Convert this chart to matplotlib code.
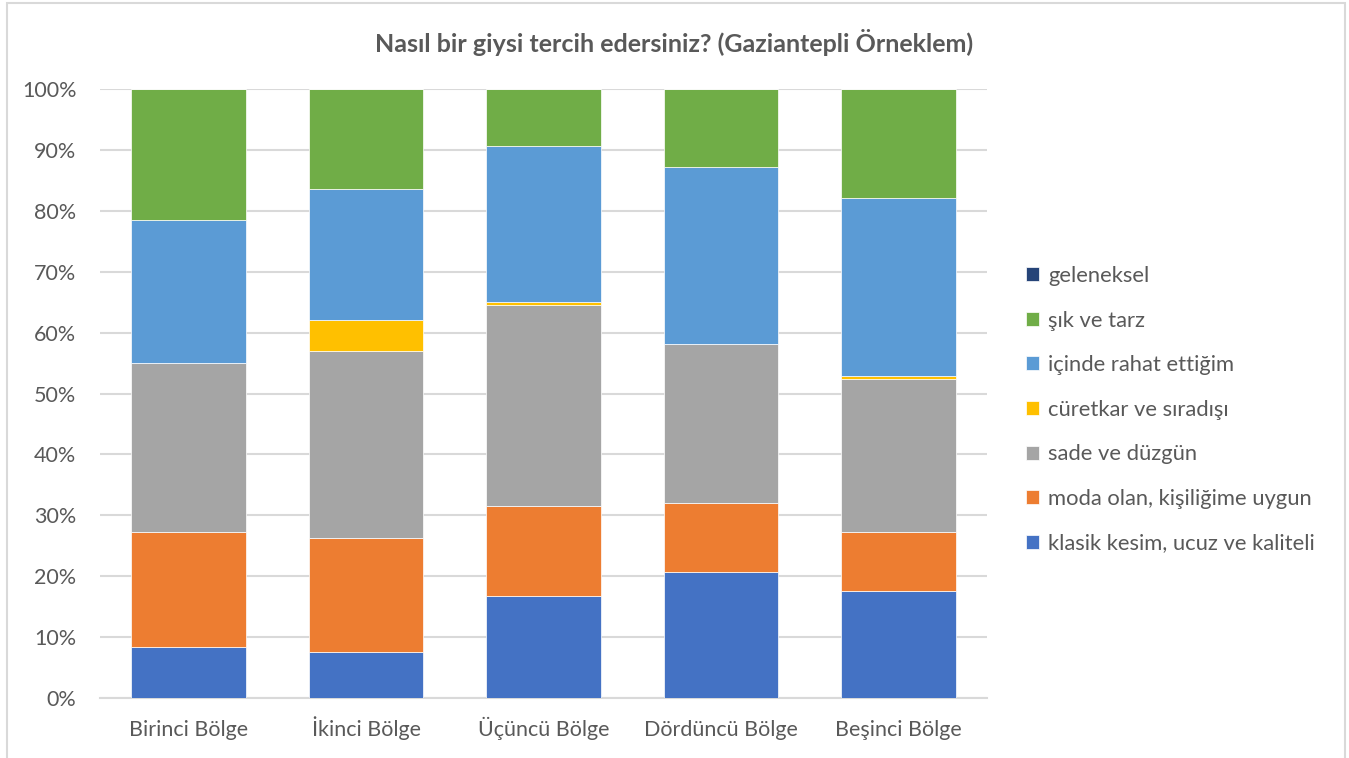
import numpy as np
import matplotlib.pyplot as plt
from matplotlib.patches import Rectangle

plt.rcParams['font.family'] = ['Lato', 'DejaVu Sans']

# Data (percent shares)
regions = ['Birinci Bölge', 'İkinci Bölge', 'Üçüncü Bölge', 'Dördüncü Bölge', 'Beşinci Bölge']
series_names = ['klasik kesim, ucuz ve kaliteli', 'moda olan, kişiliğime uygun', 'sade ve düzgün',
                'cüretkar ve sıradışı', 'içinde rahat ettiğim', 'şık ve tarz', 'geleneksel']
klasik = [8.4, 7.6, 16.8, 20.7, 17.5]
moda = [18.8, 18.7, 14.8, 11.4, 9.8]
sade = [27.8, 30.6, 32.9, 26.1, 25.0]
curetkar = [0.0, 5.2, 0.6, 0.0, 0.6]
rahat = [23.5, 21.5, 25.5, 29.0, 29.2]
sik = [21.5, 16.4, 9.4, 12.8, 17.9]
geleneksel = [0.0, 0.0, 0.0, 0.0, 0.0]
colors = ['#4472C4', '#ED7D31', '#A5A5A5', '#FFC000', '#5B9BD5', '#70AD47', '#264478']

series = [klasik, moda, sade, curetkar, rahat, sik, geleneksel]
text_col = '#595959'
grid_col = '#D9D9D9'

fig = plt.figure(figsize=(13.49, 7.58), dpi=100)
ax = fig.add_axes([100 / 1349, 60 / 758, 887 / 1349, 609 / 758])

x = np.arange(len(regions))
bottom = np.zeros(len(regions))
handles = []
for vals, name, col in zip(series, series_names, colors):
    vals = np.array(vals) / 100.0
    b = ax.bar(x, vals, width=0.645, bottom=bottom, color=col, label=name,
               edgecolor='white', linewidth=0.5, zorder=3)
    handles.append(b)
    bottom += vals

ax.set_xlim(-0.5, 4.5)
ax.set_ylim(0, 1)
ax.set_yticks(np.arange(0, 1.01, 0.1))
ax.set_yticklabels([f'{int(round(v * 100))}%' for v in np.arange(0, 1.01, 0.1)])
ax.set_xticks(x)
ax.set_xticklabels(regions)
ax.tick_params(axis='both', length=0, labelsize=15.5, colors=text_col)
ax.tick_params(axis='y', pad=17)
ax.tick_params(axis='x', pad=27)
for lbl in ax.get_xticklabels():
    lbl.set_va('baseline')
ax.yaxis.grid(True, color=grid_col, linewidth=1.5, zorder=0)
for s in ['top', 'right', 'left']:
    ax.spines[s].set_visible(False)
ax.spines['bottom'].set_color(grid_col)
ax.spines['bottom'].set_linewidth(1.5)

fig.text(0.5, 1 - 43 / 758, 'Nasıl bir giysi tercih edersiniz? (Gaziantepli Örneklem)',
         ha='center', va='center', fontsize=18, fontweight='bold', color=text_col)

leg = fig.legend(handles[::-1], series_names[::-1], loc='upper left',
                 bbox_to_anchor=(1015 / 1349, 1 - 255 / 758), frameon=False,
                 fontsize=15.8, handlelength=0.6, handleheight=0.6, handletextpad=0.4,
                 labelspacing=1.12, borderpad=0)
for t in leg.get_texts():
    t.set_color(text_col)

# light chart-area border
fig.add_artist(Rectangle((6.5 / 1349, -0.05), 1338 / 1349, 1.05 - 3.5 / 758,
                         transform=fig.transFigure, fill=False,
                         edgecolor=grid_col, linewidth=1.5))

fig.savefig('out.png', dpi=100)
